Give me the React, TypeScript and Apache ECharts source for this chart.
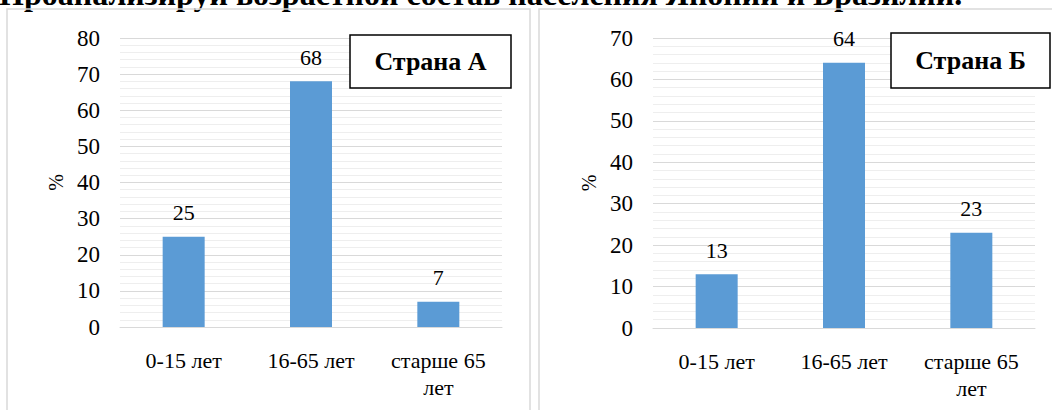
import React, { useEffect, useRef } from "react";
import * as echarts from "echarts";

const titleText = "Проанализируй возрастной состав населения Японии и Бразилии.";
const categories = ["0-15 лет", "16-65 лет", "старше 65 лет"];
const countryA = "Страна А";
const countryB = "Страна Б";
const valuesA = [25, 68, 7];
const valuesB = [13, 64, 23];
const maxA = 80;
const maxB = 70;
const axisName = "%";

const FONT = "Liberation Serif";
const BAR = "#5B9BD5";

export default function App() {
  const ref = useRef<HTMLDivElement>(null);
  useEffect(() => {
    if (!ref.current) return;
    const chart = echarts.init(ref.current, null, { renderer: "svg" });
    const yAxis = (gridIndex: number, max: number) => ({
      type: "value",
      gridIndex,
      min: 0,
      max,
      interval: 10,
      name: axisName,
      nameLocation: "middle",
      nameRotate: 90,
      nameGap: 54,
      nameTextStyle: { fontFamily: FONT, fontSize: 20, color: "#000" },
      axisLine: { show: false },
      axisTick: { show: false },
      axisLabel: { fontFamily: FONT, fontSize: 23, color: "#000", margin: 20 },
      splitLine: { show: true, lineStyle: { color: "#d9d9d9", width: 1 } },
      minorTick: { show: false, splitNumber: 5 },
      minorSplitLine: { show: true, lineStyle: { color: "#eeeeee", width: 1 } },
    });
    const xAxis = (gridIndex: number) => ({
      type: "category",
      gridIndex,
      data: categories,
      axisTick: { show: false },
      axisLine: { show: true, lineStyle: { color: "#d9d9d9", width: 1 } },
      axisLabel: {
        fontFamily: FONT,
        fontSize: 22,
        color: "#000",
        margin: 20,
        lineHeight: 27,
        interval: 0,
        formatter: (v: string) => v.replace(/^(\S+ \S+) /, "$1\n"),
      },
    });
    const series = (idx: number, data: number[]) => ({
      type: "bar",
      xAxisIndex: idx,
      yAxisIndex: idx,
      data,
      barWidth: 42,
      itemStyle: { color: BAR },
      label: {
        show: true,
        position: "top",
        distance: 13,
        fontFamily: FONT,
        fontSize: 22,
        color: "#000",
      },
    });
    const boxRect = (x: number, y: number, w: number, h: number) => ({
      type: "rect",
      z: 100,
      shape: { x, y, width: w, height: h },
      style: { fill: "#fff", stroke: "#000", lineWidth: 1.5 },
    });
    const boxText = (x: number, y: number, w: number, h: number, text: string) => ({
      type: "text",
      z: 101,
      x: x + w / 2,
      y: y + h / 2,
      style: {
        text,
        fill: "#000",
        fontFamily: FONT,
        fontWeight: "bold",
        fontSize: 26,
        align: "center",
        verticalAlign: "middle",
      },
    });
    chart.setOption({
      animation: false,
      backgroundColor: "#fff",
      textStyle: { fontFamily: FONT },
      grid: [
        { left: 120, right: 550, top: 38, bottom: 83 },
        { left: 653, right: 17, top: 38, bottom: 82 },
      ],
      xAxis: [xAxis(0), xAxis(1)],
      yAxis: [yAxis(0, maxA), yAxis(1, maxB)],
      series: [series(0, valuesA), series(1, valuesB)],
      graphic: [
        {
          type: "text",
          x: -1,
          y: 10,
          z: 50,
          style: {
            text: titleText,
            fill: "#000",
            fontFamily: FONT,
            fontWeight: "bold",
            fontSize: 32,
            align: "left",
            verticalAlign: "bottom",
          },
        },
        {
          type: "rect",
          z: 60,
          shape: { x: 7, y: 9, width: 523, height: 430 },
          style: { fill: "none", stroke: "#d9d9d9", lineWidth: 1.5 },
        },
        {
          type: "rect",
          z: 60,
          shape: { x: 539, y: 9, width: 540, height: 430 },
          style: { fill: "none", stroke: "#d9d9d9", lineWidth: 1.5 },
        },
        boxRect(350, 35, 161, 53),
        boxText(350, 35, 161, 53, countryA),
        boxRect(891, 33, 159, 55),
        boxText(891, 33, 159, 55, countryB),
      ],
    });
    return () => chart.dispose();
  }, []);
  return (
    <div
      ref={ref}
      style={{ position: "fixed", left: 0, top: 0, width: 1052, height: 410 }}
    />
  );
}
